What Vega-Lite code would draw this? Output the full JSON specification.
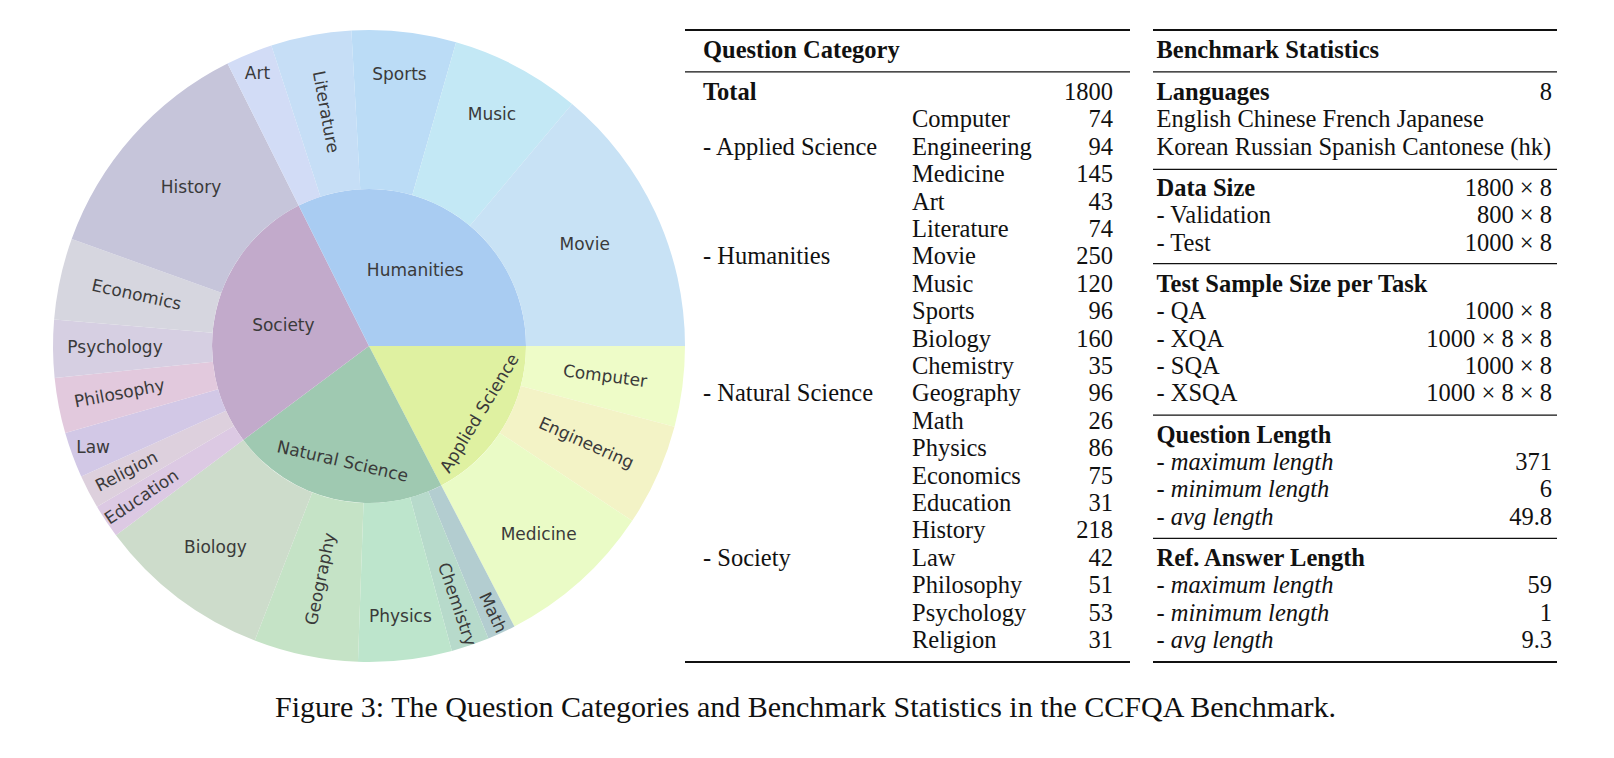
{
  "$schema": "https://vega.github.io/schema/vega-lite/v6.json",
  "padding": {"left": 53, "top": 29, "right": 20, "bottom": 20},
  "bounds": "flush",
  "spacing": 23,
  "config": {"view": {"stroke": null}},
  "title": {
    "text": "Figure 3: The Question Categories and Benchmark Statistics in the CCFQA Benchmark.",
    "orient": "bottom", "anchor": "middle", "font": "Liberation Serif", "fontSize": 30,
    "fontWeight": "normal", "color": "#111", "offset": 30, "dx": 0
  },
  "datasets": {
    "cats": [
      {"sub": "Computer", "cat": "Applied Science", "n": 74, "o": 1, "co": 1},
      {"sub": "Engineering", "cat": "Applied Science", "n": 94, "o": 2, "co": 1},
      {"sub": "Medicine", "cat": "Applied Science", "n": 145, "o": 3, "co": 1},
      {"sub": "Math", "cat": "Natural Science", "n": 26, "o": 4, "co": 2},
      {"sub": "Chemistry", "cat": "Natural Science", "n": 35, "o": 5, "co": 2},
      {"sub": "Physics", "cat": "Natural Science", "n": 86, "o": 6, "co": 2},
      {"sub": "Geography", "cat": "Natural Science", "n": 96, "o": 7, "co": 2},
      {"sub": "Biology", "cat": "Natural Science", "n": 160, "o": 8, "co": 2},
      {"sub": "Education", "cat": "Society", "n": 31, "o": 9, "co": 3},
      {"sub": "Religion", "cat": "Society", "n": 31, "o": 10, "co": 3},
      {"sub": "Law", "cat": "Society", "n": 42, "o": 11, "co": 3},
      {"sub": "Philosophy", "cat": "Society", "n": 51, "o": 12, "co": 3},
      {"sub": "Psychology", "cat": "Society", "n": 53, "o": 13, "co": 3},
      {"sub": "Economics", "cat": "Society", "n": 75, "o": 14, "co": 3},
      {"sub": "History", "cat": "Society", "n": 218, "o": 15, "co": 3},
      {"sub": "Art", "cat": "Humanities", "n": 43, "o": 16, "co": 4},
      {"sub": "Literature", "cat": "Humanities", "n": 74, "o": 17, "co": 4},
      {"sub": "Sports", "cat": "Humanities", "n": 96, "o": 18, "co": 4},
      {"sub": "Music", "cat": "Humanities", "n": 120, "o": 19, "co": 4},
      {"sub": "Movie", "cat": "Humanities", "n": 250, "o": 20, "co": 4}
    ],
    "t1": [
      {"r": -1.52, "c": 0, "t": "Question Category", "k": "b"},
      {"r": 0, "c": 0, "t": "Total", "k": "b"},
      {"r": 0, "c": 2, "t": "1800", "k": "num"},
      {"r": 2, "c": 0, "t": "- Applied Science", "k": "n"},
      {"r": 6, "c": 0, "t": "- Humanities", "k": "n"},
      {"r": 11, "c": 0, "t": "- Natural Science", "k": "n"},
      {"r": 17, "c": 0, "t": "- Society", "k": "n"},
      {"r": 1, "c": 1, "t": "Computer", "k": "n"}, {"r": 1, "c": 2, "t": "74", "k": "num"},
      {"r": 2, "c": 1, "t": "Engineering", "k": "n"}, {"r": 2, "c": 2, "t": "94", "k": "num"},
      {"r": 3, "c": 1, "t": "Medicine", "k": "n"}, {"r": 3, "c": 2, "t": "145", "k": "num"},
      {"r": 4, "c": 1, "t": "Art", "k": "n"}, {"r": 4, "c": 2, "t": "43", "k": "num"},
      {"r": 5, "c": 1, "t": "Literature", "k": "n"}, {"r": 5, "c": 2, "t": "74", "k": "num"},
      {"r": 6, "c": 1, "t": "Movie", "k": "n"}, {"r": 6, "c": 2, "t": "250", "k": "num"},
      {"r": 7, "c": 1, "t": "Music", "k": "n"}, {"r": 7, "c": 2, "t": "120", "k": "num"},
      {"r": 8, "c": 1, "t": "Sports", "k": "n"}, {"r": 8, "c": 2, "t": "96", "k": "num"},
      {"r": 9, "c": 1, "t": "Biology", "k": "n"}, {"r": 9, "c": 2, "t": "160", "k": "num"},
      {"r": 10, "c": 1, "t": "Chemistry", "k": "n"}, {"r": 10, "c": 2, "t": "35", "k": "num"},
      {"r": 11, "c": 1, "t": "Geography", "k": "n"}, {"r": 11, "c": 2, "t": "96", "k": "num"},
      {"r": 12, "c": 1, "t": "Math", "k": "n"}, {"r": 12, "c": 2, "t": "26", "k": "num"},
      {"r": 13, "c": 1, "t": "Physics", "k": "n"}, {"r": 13, "c": 2, "t": "86", "k": "num"},
      {"r": 14, "c": 1, "t": "Economics", "k": "n"}, {"r": 14, "c": 2, "t": "75", "k": "num"},
      {"r": 15, "c": 1, "t": "Education", "k": "n"}, {"r": 15, "c": 2, "t": "31", "k": "num"},
      {"r": 16, "c": 1, "t": "History", "k": "n"}, {"r": 16, "c": 2, "t": "218", "k": "num"},
      {"r": 17, "c": 1, "t": "Law", "k": "n"}, {"r": 17, "c": 2, "t": "42", "k": "num"},
      {"r": 18, "c": 1, "t": "Philosophy", "k": "n"}, {"r": 18, "c": 2, "t": "51", "k": "num"},
      {"r": 19, "c": 1, "t": "Psychology", "k": "n"}, {"r": 19, "c": 2, "t": "53", "k": "num"},
      {"r": 20, "c": 1, "t": "Religion", "k": "n"}, {"r": 20, "c": 2, "t": "31", "k": "num"}
    ],
    "t2": [
      {"r": -1.52, "c": 0, "t": "Benchmark Statistics", "k": "b"},
      {"r": 0, "c": 0, "t": "Languages", "k": "b"}, {"r": 0, "c": 1, "t": "8", "k": "num"},
      {"r": 1, "c": 0, "t": "English Chinese French Japanese", "k": "n"},
      {"r": 2, "c": 0, "t": "Korean Russian Spanish Cantonese (hk)", "k": "n"},
      {"r": 3.5, "c": 0, "t": "Data Size", "k": "b"}, {"r": 3.5, "c": 1, "t": "1800 × 8", "k": "num"},
      {"r": 4.5, "c": 0, "t": "- Validation", "k": "n"}, {"r": 4.5, "c": 1, "t": "800 × 8", "k": "num"},
      {"r": 5.5, "c": 0, "t": "- Test", "k": "n"}, {"r": 5.5, "c": 1, "t": "1000 × 8", "k": "num"},
      {"r": 7, "c": 0, "t": "Test Sample Size per Task", "k": "b"},
      {"r": 8, "c": 0, "t": "- QA", "k": "n"}, {"r": 8, "c": 1, "t": "1000 × 8", "k": "num"},
      {"r": 9, "c": 0, "t": "- XQA", "k": "n"}, {"r": 9, "c": 1, "t": "1000 × 8 × 8", "k": "num"},
      {"r": 10, "c": 0, "t": "- SQA", "k": "n"}, {"r": 10, "c": 1, "t": "1000 × 8", "k": "num"},
      {"r": 11, "c": 0, "t": "- XSQA", "k": "n"}, {"r": 11, "c": 1, "t": "1000 × 8 × 8", "k": "num"},
      {"r": 12.5, "c": 0, "t": "Question Length", "k": "b"},
      {"r": 13.5, "c": 0, "t": "- maximum length", "k": "i"}, {"r": 13.5, "c": 1, "t": "371", "k": "num"},
      {"r": 14.5, "c": 0, "t": "- minimum length", "k": "i"}, {"r": 14.5, "c": 1, "t": "6", "k": "num"},
      {"r": 15.5, "c": 0, "t": "- avg length", "k": "i"}, {"r": 15.5, "c": 1, "t": "49.8", "k": "num"},
      {"r": 17, "c": 0, "t": "Ref. Answer Length", "k": "b"},
      {"r": 18, "c": 0, "t": "- maximum length", "k": "i"}, {"r": 18, "c": 1, "t": "59", "k": "num"},
      {"r": 19, "c": 0, "t": "- minimum length", "k": "i"}, {"r": 19, "c": 1, "t": "1", "k": "num"},
      {"r": 20, "c": 0, "t": "- avg length", "k": "i"}, {"r": 20, "c": 1, "t": "9.3", "k": "num"}
    ],
    "rules1": [
      {"r": -2.555, "w": "heavy"}, {"r": -1.03, "w": "light"}, {"r": 20.51, "w": "heavy"}
    ],
    "rules2": [
      {"r": -2.555, "w": "heavy"}, {"r": -1.03, "w": "light"}, {"r": 2.53, "w": "light"},
      {"r": 5.97, "w": "light"}, {"r": 11.5, "w": "light"}, {"r": 16.0, "w": "light"},
      {"r": 20.51, "w": "heavy"}
    ]
  },
  "hconcat": [
    {
      "width": 586,
      "height": 632,
      "data": {"name": "cats"},
      "layer": [
        {
          "transform": [{"aggregate": [{"op": "sum", "field": "n", "as": "n"}], "groupby": ["cat", "co"]}],
          "mark": {"type": "arc", "innerRadius": 0, "outerRadius": 157},
          "encoding": {
            "theta": {"field": "n", "type": "quantitative", "stack": true, "scale": {"range": [1.5707963, 7.8539816]}},
            "order": {"field": "co", "type": "quantitative"},
            "color": {"field": "cat", "type": "nominal", "legend": null,
              "scale": {"domain": ["Applied Science", "Natural Science", "Society", "Humanities"],
                        "range": ["#dff1a1", "#9fc9b1", "#c2aacb", "#a9ccf2"]}}
          }
        },
        {
          "mark": {"type": "arc", "innerRadius": 157, "outerRadius": 316},
          "encoding": {
            "theta": {"field": "n", "type": "quantitative", "stack": true, "scale": {"range": [1.5707963, 7.8539816]}},
            "order": {"field": "o", "type": "quantitative"},
            "color": {"field": "sub", "type": "nominal", "legend": null,
              "scale": {"domain": ["Computer", "Engineering", "Medicine", "Math", "Chemistry", "Physics", "Geography", "Biology", "Education", "Religion", "Law", "Philosophy", "Psychology", "Economics", "History", "Art", "Literature", "Sports", "Music", "Movie"],
                        "range": ["#eefcc8", "#f3f3c6", "#eafbc6", "#b3cdd0", "#b7dacb", "#bde5cc", "#c5e3c6", "#cddccb", "#dcc9e3", "#ddd0dd", "#d2c8e6", "#e2c9dd", "#d6cfe2", "#d6d6df", "#c6c5da", "#d2dcf6", "#c6def6", "#bbdcf6", "#c3e8f5", "#c8e2f5"]}}
          }
        },
        {
          "mark": {"type": "text", "font": "DejaVu Sans", "fontSize": 17, "fill": "#3a3a3a", "align": "center", "baseline": "middle", "radius": 238},
          "encoding": {
            "theta": {"field": "n", "type": "quantitative", "stack": true, "scale": {"range": [1.5707963, 7.8539816]}},
            "order": {"field": "o", "type": "quantitative"},
            "angle": {"field": "o", "type": "quantitative", "legend": null,
              "scale": {"type": "linear", "zero": false, "nice": false,
                        "domain": [1, 2, 3, 4, 5, 6, 7, 8, 9, 10, 11, 12, 13, 14, 15, 16, 17, 18, 19, 20],
                        "range": [7.4, 24.2, 0, 65.2, 71.3, 0, -78.4, 0, -33.7, -27.5, 0, -10.9, 0, 12.3, 0, 0, 79.4, 0, 0, 0]}},
            "text": {"condition": {"test": "indexof(['Computer','Engineering','Geography','Economics','History','Literature','Movie'], datum.sub) >= 0", "field": "sub", "type": "nominal"}, "value": ""}
          }
        },
        {
          "mark": {"type": "text", "font": "DejaVu Sans", "fontSize": 17, "fill": "#3a3a3a", "align": "center", "baseline": "middle", "radius": 254},
          "encoding": {
            "theta": {"field": "n", "type": "quantitative", "stack": true, "scale": {"range": [1.5707963, 7.8539816]}},
            "order": {"field": "o", "type": "quantitative"},
            "angle": {"field": "o", "type": "quantitative", "legend": null,
              "scale": {"type": "linear", "zero": false, "nice": false,
                        "domain": [1, 2, 3, 4, 5, 6, 7, 8, 9, 10, 11, 12, 13, 14, 15, 16, 17, 18, 19, 20],
                        "range": [7.4, 24.2, 0, 65.2, 71.3, 0, -78.4, 0, -33.7, -27.5, 0, -10.9, 0, 12.3, 0, 0, 79.4, 0, 0, 0]}},
            "text": {"condition": {"test": "indexof(['Medicine','Biology','Philosophy','Psychology'], datum.sub) >= 0", "field": "sub", "type": "nominal"}, "value": ""}
          }
        },
        {
          "mark": {"type": "text", "font": "DejaVu Sans", "fontSize": 17, "fill": "#3a3a3a", "align": "center", "baseline": "middle", "radius": 262},
          "encoding": {
            "theta": {"field": "n", "type": "quantitative", "stack": true, "scale": {"range": [1.5707963, 7.8539816]}},
            "order": {"field": "o", "type": "quantitative"},
            "angle": {"field": "o", "type": "quantitative", "legend": null,
              "scale": {"type": "linear", "zero": false, "nice": false,
                        "domain": [1, 2, 3, 4, 5, 6, 7, 8, 9, 10, 11, 12, 13, 14, 15, 16, 17, 18, 19, 20],
                        "range": [7.4, 24.2, 0, 65.2, 71.3, 0, -78.4, 0, -33.7, -27.5, 0, -10.9, 0, 12.3, 0, 0, 79.4, 0, 0, 0]}},
            "text": {"condition": {"test": "datum.sub === 'Music'", "field": "sub", "type": "nominal"}, "value": ""}
          }
        },
        {
          "mark": {"type": "text", "font": "DejaVu Sans", "fontSize": 17, "fill": "#3a3a3a", "align": "center", "baseline": "middle", "radius": 273},
          "encoding": {
            "theta": {"field": "n", "type": "quantitative", "stack": true, "scale": {"range": [1.5707963, 7.8539816]}},
            "order": {"field": "o", "type": "quantitative"},
            "angle": {"field": "o", "type": "quantitative", "legend": null,
              "scale": {"type": "linear", "zero": false, "nice": false,
                        "domain": [1, 2, 3, 4, 5, 6, 7, 8, 9, 10, 11, 12, 13, 14, 15, 16, 17, 18, 19, 20],
                        "range": [7.4, 24.2, 0, 65.2, 71.3, 0, -78.4, 0, -33.7, -27.5, 0, -10.9, 0, 12.3, 0, 0, 79.4, 0, 0, 0]}},
            "text": {"condition": {"test": "indexof(['Sports','Chemistry','Physics','Education','Religion'], datum.sub) >= 0", "field": "sub", "type": "nominal"}, "value": ""}
          }
        },
        {
          "mark": {"type": "text", "font": "DejaVu Sans", "fontSize": 17, "fill": "#3a3a3a", "align": "center", "baseline": "middle", "radius": 294},
          "encoding": {
            "theta": {"field": "n", "type": "quantitative", "stack": true, "scale": {"range": [1.5707963, 7.8539816]}},
            "order": {"field": "o", "type": "quantitative"},
            "angle": {"field": "o", "type": "quantitative", "legend": null,
              "scale": {"type": "linear", "zero": false, "nice": false,
                        "domain": [1, 2, 3, 4, 5, 6, 7, 8, 9, 10, 11, 12, 13, 14, 15, 16, 17, 18, 19, 20],
                        "range": [7.4, 24.2, 0, 65.2, 71.3, 0, -78.4, 0, -33.7, -27.5, 0, -10.9, 0, 12.3, 0, 0, 79.4, 0, 0, 0]}},
            "text": {"condition": {"test": "indexof(['Math','Law','Art'], datum.sub) >= 0", "field": "sub", "type": "nominal"}, "value": ""}
          }
        },
        {
          "transform": [{"aggregate": [{"op": "sum", "field": "n", "as": "n"}], "groupby": ["cat", "co"]}],
          "mark": {"type": "text", "font": "DejaVu Sans", "fontSize": 17, "fill": "#3a3a3a", "align": "center", "baseline": "middle", "radius": 130},
          "encoding": {
            "theta": {"field": "n", "type": "quantitative", "stack": true, "scale": {"range": [1.5707963, 7.8539816]}},
            "order": {"field": "co", "type": "quantitative"},
            "angle": {"field": "co", "type": "quantitative", "legend": null,
              "scale": {"type": "linear", "zero": false, "nice": false, "domain": [1, 2, 3, 4], "range": [-58.7, 12.9, 0, 0]}},
            "text": {"condition": {"test": "datum.cat === 'Applied Science'", "field": "cat", "type": "nominal"}, "value": ""}
          }
        },
        {
          "transform": [{"aggregate": [{"op": "sum", "field": "n", "as": "n"}], "groupby": ["cat", "co"]}],
          "mark": {"type": "text", "font": "DejaVu Sans", "fontSize": 17, "fill": "#3a3a3a", "align": "center", "baseline": "middle", "radius": 119},
          "encoding": {
            "theta": {"field": "n", "type": "quantitative", "stack": true, "scale": {"range": [1.5707963, 7.8539816]}},
            "order": {"field": "co", "type": "quantitative"},
            "angle": {"field": "co", "type": "quantitative", "legend": null,
              "scale": {"type": "linear", "zero": false, "nice": false, "domain": [1, 2, 3, 4], "range": [-58.7, 12.9, 0, 0]}},
            "text": {"condition": {"test": "datum.cat === 'Natural Science'", "field": "cat", "type": "nominal"}, "value": ""}
          }
        },
        {
          "transform": [{"aggregate": [{"op": "sum", "field": "n", "as": "n"}], "groupby": ["cat", "co"]}],
          "mark": {"type": "text", "font": "DejaVu Sans", "fontSize": 17, "fill": "#3a3a3a", "align": "center", "baseline": "middle", "radius": 88},
          "encoding": {
            "theta": {"field": "n", "type": "quantitative", "stack": true, "scale": {"range": [1.5707963, 7.8539816]}},
            "order": {"field": "co", "type": "quantitative"},
            "angle": {"field": "co", "type": "quantitative", "legend": null,
              "scale": {"type": "linear", "zero": false, "nice": false, "domain": [1, 2, 3, 4], "range": [-58.7, 12.9, 0, 0]}},
            "text": {"condition": {"test": "datum.cat === 'Society' || datum.cat === 'Humanities'", "field": "cat", "type": "nominal"}, "value": ""}
          }
        }
      ],
      "resolve": {"scale": {"color": "independent", "angle": "independent"}}
    },
    {
      "width": 445,
      "height": 632,
      "encoding": {
        "y": {"field": "r", "type": "quantitative", "axis": null,
          "scale": {"domain": [-2.555, 20.51], "reverse": true, "nice": false, "zero": false}}
      },
      "layer": [
        {"data": {"name": "rules1"}, "transform": [{"filter": "datum.w === 'heavy'"}],
         "mark": {"type": "rule", "color": "#111", "strokeWidth": 2}},
        {"data": {"name": "rules1"}, "transform": [{"filter": "datum.w === 'light'"}],
         "mark": {"type": "rule", "color": "#111", "strokeWidth": 1.2}},
        {"data": {"name": "t1"}, "transform": [{"filter": "datum.k === 'b'"}],
         "mark": {"type": "text", "font": "Liberation Serif", "fontSize": 24.5, "fontWeight": "bold", "align": "left", "baseline": "alphabetic", "fill": "#111"},
         "encoding": {"x": {"field": "c", "type": "quantitative", "axis": null, "scale": {"domain": [0, 1, 2], "range": [18, 227, 428], "nice": false, "zero": false}}, "text": {"field": "t"}}},
        {"data": {"name": "t1"}, "transform": [{"filter": "datum.k === 'n'"}],
         "mark": {"type": "text", "font": "Liberation Serif", "fontSize": 24.5, "align": "left", "baseline": "alphabetic", "fill": "#111"},
         "encoding": {"x": {"field": "c", "type": "quantitative", "axis": null, "scale": {"domain": [0, 1, 2], "range": [18, 227, 428], "nice": false, "zero": false}}, "text": {"field": "t"}}},
        {"data": {"name": "t1"}, "transform": [{"filter": "datum.k === 'num'"}],
         "mark": {"type": "text", "font": "Liberation Serif", "fontSize": 24.5, "align": "right", "baseline": "alphabetic", "fill": "#111"},
         "encoding": {"x": {"field": "c", "type": "quantitative", "axis": null, "scale": {"domain": [0, 1, 2], "range": [18, 227, 428], "nice": false, "zero": false}}, "text": {"field": "t"}}}
      ]
    },
    {
      "width": 404,
      "height": 632,
      "encoding": {
        "y": {"field": "r", "type": "quantitative", "axis": null,
          "scale": {"domain": [-2.555, 20.51], "reverse": true, "nice": false, "zero": false}}
      },
      "layer": [
        {"data": {"name": "rules2"}, "transform": [{"filter": "datum.w === 'heavy'"}],
         "mark": {"type": "rule", "color": "#111", "strokeWidth": 2}},
        {"data": {"name": "rules2"}, "transform": [{"filter": "datum.w === 'light'"}],
         "mark": {"type": "rule", "color": "#111", "strokeWidth": 1.2}},
        {"data": {"name": "t2"}, "transform": [{"filter": "datum.k === 'b'"}],
         "mark": {"type": "text", "font": "Liberation Serif", "fontSize": 24.5, "fontWeight": "bold", "align": "left", "baseline": "alphabetic", "fill": "#111"},
         "encoding": {"x": {"field": "c", "type": "quantitative", "axis": null, "scale": {"domain": [0, 1], "range": [3.5, 399], "nice": false, "zero": false}}, "text": {"field": "t"}}},
        {"data": {"name": "t2"}, "transform": [{"filter": "datum.k === 'n'"}],
         "mark": {"type": "text", "font": "Liberation Serif", "fontSize": 24.5, "align": "left", "baseline": "alphabetic", "fill": "#111"},
         "encoding": {"x": {"field": "c", "type": "quantitative", "axis": null, "scale": {"domain": [0, 1], "range": [3.5, 399], "nice": false, "zero": false}}, "text": {"field": "t"}}},
        {"data": {"name": "t2"}, "transform": [{"filter": "datum.k === 'i'"}],
         "mark": {"type": "text", "font": "Liberation Serif", "fontSize": 24.5, "fontStyle": "italic", "align": "left", "baseline": "alphabetic", "fill": "#111"},
         "encoding": {"x": {"field": "c", "type": "quantitative", "axis": null, "scale": {"domain": [0, 1], "range": [3.5, 399], "nice": false, "zero": false}}, "text": {"field": "t"}}},
        {"data": {"name": "t2"}, "transform": [{"filter": "datum.k === 'num'"}],
         "mark": {"type": "text", "font": "Liberation Serif", "fontSize": 24.5, "align": "right", "baseline": "alphabetic", "fill": "#111"},
         "encoding": {"x": {"field": "c", "type": "quantitative", "axis": null, "scale": {"domain": [0, 1], "range": [3.5, 399], "nice": false, "zero": false}}, "text": {"field": "t"}}}
      ]
    }
  ]
}
